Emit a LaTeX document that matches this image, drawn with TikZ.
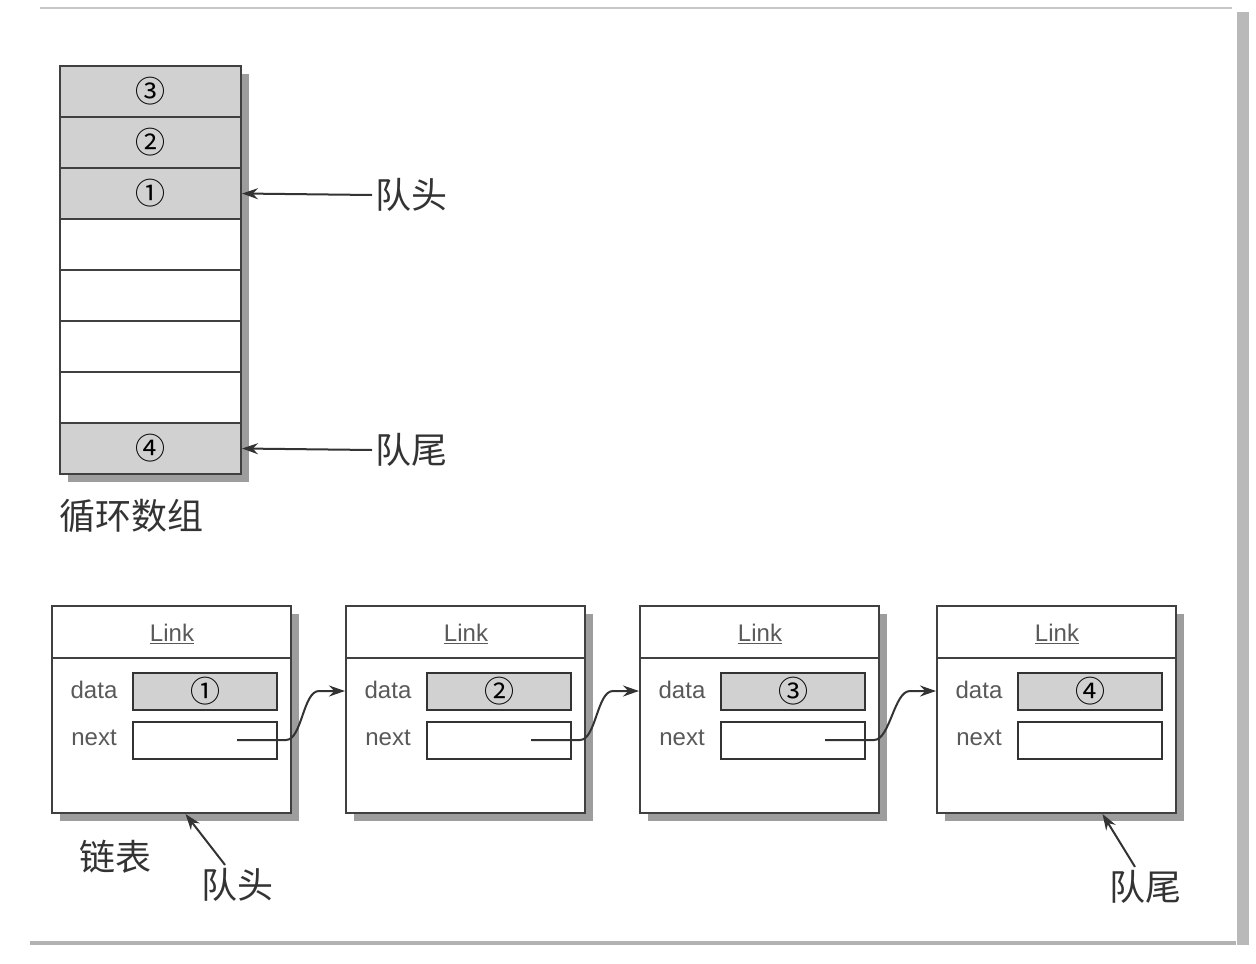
\documentclass[tikz,border=0pt]{standalone}
\usepackage{fontspec}
\setmainfont{Liberation Sans}
\newfontfamily\cjk{Noto Sans CJK SC}
\usetikzlibrary{arrows.meta,shadows,calc}

\tikzset{
	boxshadow/.style={drop shadow={shadow xshift=8pt, shadow yshift=-8pt, opacity=0.55, fill=black!70}},
	cellbox/.style={draw=black!75, line width=2pt, minimum width=181pt, minimum height=51pt, inner sep=0pt, font=\cjk\fontsize{30}{30}\selectfont},
	linkbox/.style={draw=black!75, line width=2pt, fill=white, minimum width=239pt, minimum height=207pt, inner sep=0pt, boxshadow},
	fieldbox/.style={draw=black!80, line width=2pt, minimum width=144pt, minimum height=37pt, inner sep=0pt, font=\cjk\fontsize{30}{30}\selectfont},
	fieldlabel/.style={font=\fontsize{24}{24}\selectfont, text=black!65},
	cjklabel/.style={font=\cjk\fontsize{36}{36}\selectfont, text=black!80},
	ptr/.style={draw=black!80, line width=2pt, -{Stealth[length=16pt,width=11pt]}},
}

\begin{document}
\begin{tikzpicture}[x=1pt, y=-1pt]
	\useasboundingbox (0,0) rectangle (1256,964);
	% page frame
	\draw[gray!45, line width=1.5pt] (40,8) -- (1232,8);
	\fill[gray!55] (1237,12) rectangle (1249,945);
	\draw[gray!60, line width=4pt] (30,943) -- (1236,943);

	% circular array
	\draw[draw=black!75, line width=2pt, fill=white, boxshadow] (60,66) rectangle (241,474);
	\foreach \i/\v/\f in {1/③/black!18, 2/②/black!18, 3/①/black!18, 4//white, 5//white, 6//white, 7//white, 8/④/black!18} {
		\node[cellbox, fill=\f] (cell\i) at (150.5,40.5+51*\i) {\v};
	}
	\node[cjklabel, anchor=west] (head) at (372,195) {队头};
	\node[cjklabel, anchor=west] (tail) at (372,450) {队尾};
	\draw[ptr] (head.west) -- (cell3.east);
	\draw[ptr] (tail.west) -- (cell8.east);
	\node[cjklabel, anchor=west] (arrname) at (56,516) {循环数组};

	% linked list
	\foreach \n/\x/\v in {1/52/①, 2/346/②, 3/640/③, 4/937/④} {
		\node[linkbox] (L\n) at (\x+119.5,709.5) {};
		\draw[black!75, line width=2pt] ([yshift=-53pt]L\n.north west) -- ([yshift=-53pt]L\n.north east);
		\node[fieldlabel] (T\n) at (\x+120,634) {\underline{Link}};
		\node[fieldbox, fill=black!18] (D\n) at (\x+153,691) {\v};
		\node[fieldbox] (N\n) at (\x+153,740) {};
		\node[fieldlabel] (dl\n) at (\x+42,690) {data};
		\node[fieldlabel] (nl\n) at (\x+42,738) {next};
	}
	\foreach \a/\b in {1/2, 2/3, 3/4} {
		\draw[ptr] ([xshift=32pt]N\a.center) -- ([xshift=8pt]N\a.east) .. controls +(16,0) and +(-16,0) .. ($(L\b.west |- D\b.center)+(-26,0)$) -- (L\b.west |- D\b.center);
	}
	\node[cjklabel] (listname) at (115,857) {链表};
	\node[cjklabel] (qh) at (237,885) {队头};
	\node[cjklabel] (qt) at (1145,887) {队尾};
	\draw[ptr] ([xshift=-12pt]qh.north) -- ([xshift=14pt]L1.south);
	\draw[ptr] ([xshift=-10pt]qt.north) -- ([xshift=46pt]L4.south);
\end{tikzpicture}
\end{document}
